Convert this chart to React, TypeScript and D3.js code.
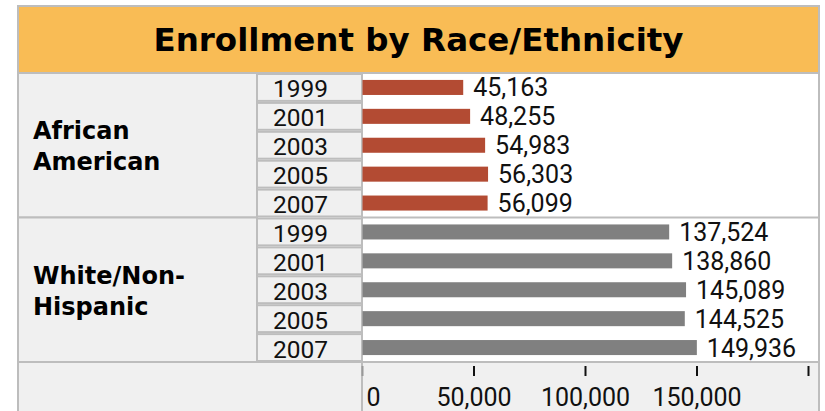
import React from "react";
import * as d3 from "d3";

const title = "Enrollment by Race/Ethnicity";
const groups = ["African American", "White/Non-Hispanic"];
const groupLabelLines = [["African", "American"], ["White/Non-", "Hispanic"]];
const years = ["1999", "2001", "2003", "2005", "2007"];
const africanAmerican = [45163, 48255, 54983, 56303, 56099];
const whiteNonHispanic = [137524, 138860, 145089, 144525, 149936];
const seriesValues = [africanAmerican, whiteNonHispanic];
const seriesColors = ["#B34B33", "#808080"];
const xTicks = [0, 50000, 100000, 150000, 200000];

export default function App() {
  const W = 825;
  const H = 411;
  const left = 18;
  const right = 819;
  const top = 6;
  const titleBottom = 73;
  const colGroupEnd = 257;
  const colYearEnd = 362;
  const plotBottom = 362;
  const border = "#BDBDBD";
  const cellFill = "#F0F0F0";

  const x = d3.scaleLinear().domain([0, 200000]).range([362.5, 808.5]);
  const groupScale = d3
    .scaleBand<string>()
    .domain(groups)
    .range([titleBottom, plotBottom])
    .padding(0);
  const fmt = d3.format(",");

  return (
    <div style={{ position: "absolute", left: 0, top: 0 }}>
      <svg width={W} height={H} style={{ display: "block" }}>
        <rect x={0} y={0} width={W} height={H} fill="#FFFFFF" />
        {/* title band */}
        <rect
          x={left}
          y={top}
          width={right - left}
          height={titleBottom - top}
          fill="#F9BC55"
          stroke={border}
          strokeWidth={2}
        />
        <text
          x={(left + right) / 2}
          y={50.5}
          textAnchor="middle"
          fontFamily="DejaVu Sans"
          fontWeight="bold"
          fontSize={32.5}
          fill="#000"
        >
          {title}
        </text>

        {/* plot area */}
        <rect
          x={colYearEnd}
          y={titleBottom}
          width={right - colYearEnd}
          height={plotBottom - titleBottom}
          fill="#FFFFFF"
          stroke={border}
          strokeWidth={2}
        />

        {groups.map((g, gi) => {
          const gy = groupScale(g)!;
          const gh = groupScale.bandwidth();
          const cells = d3.scaleBand<string>().domain(years).range([gy, gy + gh]).padding(0);
          const bars = d3
            .scaleBand<string>()
            .domain(years)
            .range([gy, gy + gh])
            .paddingInner(0.48)
            .paddingOuter(0.24);
          const cy = gy + gh / 2;
          return (
            <g key={g}>
              <rect
                x={left}
                y={gy}
                width={colGroupEnd - left}
                height={gh}
                fill={cellFill}
                stroke={border}
                strokeWidth={2}
              />
              <line x1={colYearEnd} x2={right} y1={gy} y2={gy} stroke={border} strokeWidth={2} />
              {groupLabelLines[gi].map((ln, li) => (
                <text
                  key={li}
                  x={33}
                  y={cy - 6 + li * 31}
                  fontFamily="DejaVu Sans"
                  fontWeight="bold"
                  fontSize={24}
                  fill="#000"
                >
                  {ln}
                </text>
              ))}
              {years.map((yr, yi) => {
                const c = cells(yr)!;
                const b = bars(yr)!;
                const v = seriesValues[gi][yi];
                return (
                  <g key={yr}>
                    <rect
                      x={colGroupEnd}
                      y={c + 1}
                      width={colYearEnd - colGroupEnd}
                      height={cells.bandwidth() - 2}
                      fill={cellFill}
                      stroke={border}
                      strokeWidth={2}
                    />
                    <text
                      x={273}
                      y={c + cells.bandwidth() - 4.5}
                      fontFamily="Roboto"
                      fontSize={24.5}
                      fill="#111"
                    >
                      {yr}
                    </text>
                    <rect
                      x={x(0)}
                      y={b}
                      width={x(v) - x(0)}
                      height={bars.bandwidth()}
                      fill={seriesColors[gi]}
                    />
                    <text
                      x={x(v) + 10}
                      y={b + bars.bandwidth() / 2 + 9}
                      fontFamily="Roboto"
                      fontSize={25}
                      fill="#111"
                    >
                      {fmt(v)}
                    </text>
                  </g>
                );
              })}
            </g>
          );
        })}

        {/* axis row */}
        <rect
          x={left}
          y={plotBottom}
          width={colYearEnd - left}
          height={H - plotBottom + 5}
          fill={cellFill}
          stroke={border}
          strokeWidth={2}
        />
        <rect
          x={colYearEnd}
          y={plotBottom}
          width={right - colYearEnd}
          height={H - plotBottom + 5}
          fill={cellFill}
          stroke={border}
          strokeWidth={2}
        />
        {xTicks.map((t, i) => (
          <g key={t}>
            <line
              x1={x(t)}
              x2={x(t)}
              y1={366}
              y2={376}
              stroke={i === 0 ? "#999" : "#111"}
              strokeWidth={2}
            />
            {i < xTicks.length - 1 && (
              <text
                x={i === 0 ? x(t) + 4 : x(t)}
                y={406}
                textAnchor={i === 0 ? "start" : "middle"}
                fontFamily="Roboto"
                fontSize={25}
                fill="#111"
              >
                {fmt(t)}
              </text>
            )}
          </g>
        ))}
      </svg>
    </div>
  );
}
